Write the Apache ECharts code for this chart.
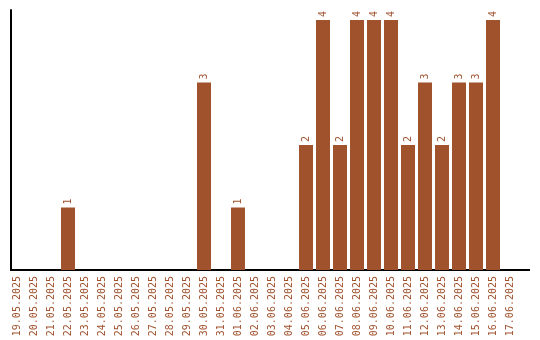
<!DOCTYPE html>
<html><head><meta charset="utf-8">
<script src="https://cdn.jsdelivr.net/npm/echarts@6/dist/echarts.min.js"></script>
<style>html,body{margin:0;padding:0;background:#fff}#c{width:540px;height:340px}</style>
</head><body><div id="c"></div>
<script>
const categories = ['19.05.2025','20.05.2025','21.05.2025','22.05.2025','23.05.2025','24.05.2025','25.05.2025','26.05.2025','27.05.2025','28.05.2025','29.05.2025','30.05.2025','31.05.2025','01.06.2025','02.06.2025','03.06.2025','04.06.2025','05.06.2025','06.06.2025','07.06.2025','08.06.2025','09.06.2025','10.06.2025','11.06.2025','12.06.2025','13.06.2025','14.06.2025','15.06.2025','16.06.2025','17.06.2025'];
const values = [0,0,0,1,0,0,0,0,0,0,0,3,0,1,0,0,0,2,4,2,4,4,4,2,3,2,3,3,4,0];
const color = '#a0522d';
const chart = echarts.init(document.getElementById('c'), null, {renderer:'canvas'});
chart.setOption({
  animation: false,
  grid: {left: 8.5, width: 510, top: 10, bottom: 70, containLabel: false},
  xAxis: {
    type: 'category', data: categories,
    axisLine: {show: false}, axisTick: {show: false},
    axisLabel: {rotate: 90, color: color, fontFamily: 'DejaVu Sans Mono', fontSize: 10, margin: 6, interval: 0}
  },
  yAxis: {
    type: 'value', min: 0, max: 4.16,
    axisLine: {show: true, lineStyle: {color: '#000', width: 2}},
    axisTick: {show: false}, axisLabel: {show: false}, splitLine: {show: false},
    offset: -2.5
  },
  graphic: [{
    type: 'line', shape: {x1: 10, y1: 270, x2: 530, y2: 270},
    style: {stroke: '#000', lineWidth: 2}
  }],
  series: [{
    type: 'bar', data: values, barWidth: 14,
    itemStyle: {color: color},
    label: {
      show: true, position: 'top', rotate: 90, distance: 3,
      color: color, fontFamily: 'DejaVu Sans Mono', fontSize: 10,
      align: 'left', verticalAlign: 'middle',
      formatter: p => p.value > 0 ? String(p.value) : ''
    }
  }]
});
</script></body></html>
